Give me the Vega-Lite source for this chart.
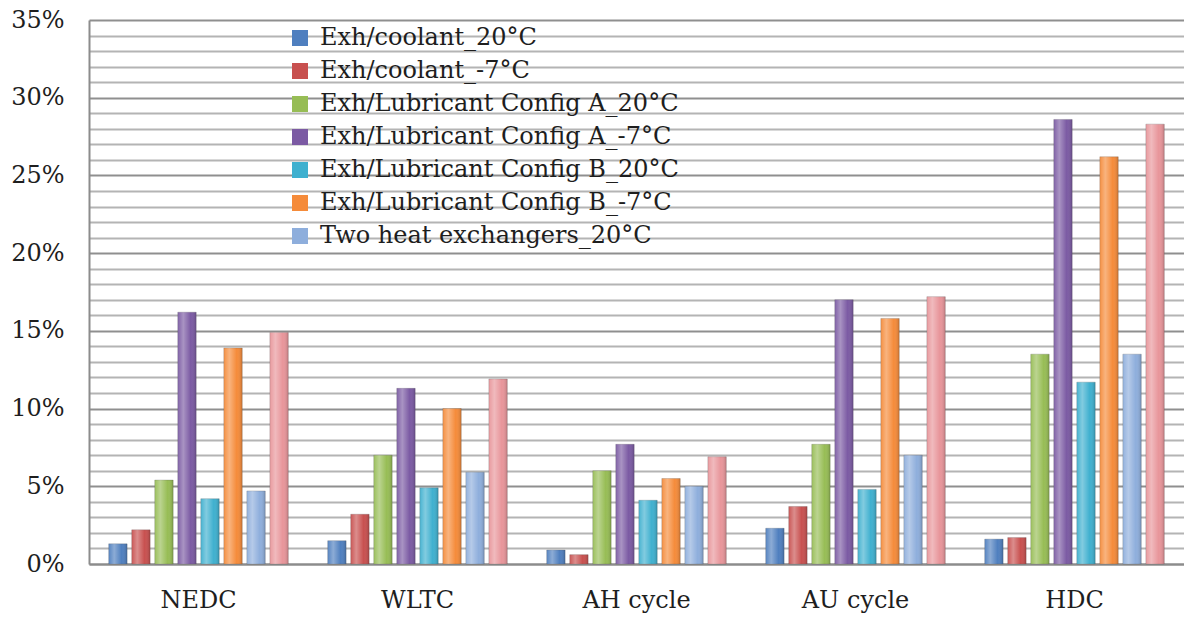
{
  "$schema": "https://vega.github.io/schema/vega-lite/v6.json",
  "autosize": {"type": "none"},
  "padding": {"left": 89, "top": 20, "right": 0, "bottom": 58},
  "width": 1095,
  "height": 544,
  "background": "white",
  "config": {
    "font": "DejaVu Serif",
    "view": {"stroke": null},
    "axis": {"labelFont": "DejaVu Serif", "labelColor": "#1e1e1e", "labelFontSize": 24}
  },
  "data": {
    "values": [
      {"cycle": "NEDC", "series": "Exh/coolant_20°C", "value": 0.013},
      {"cycle": "NEDC", "series": "Exh/coolant_-7°C", "value": 0.022},
      {"cycle": "NEDC", "series": "Exh/Lubricant Config A_20°C", "value": 0.054},
      {"cycle": "NEDC", "series": "Exh/Lubricant Config A_-7°C", "value": 0.162},
      {"cycle": "NEDC", "series": "Exh/Lubricant Config B_20°C", "value": 0.042},
      {"cycle": "NEDC", "series": "Exh/Lubricant Config B_-7°C", "value": 0.139},
      {"cycle": "NEDC", "series": "Two heat exchangers_20°C", "value": 0.047},
      {"cycle": "NEDC", "series": "Two heat exchangers_-7°C", "value": 0.149},
      {"cycle": "WLTC", "series": "Exh/coolant_20°C", "value": 0.015},
      {"cycle": "WLTC", "series": "Exh/coolant_-7°C", "value": 0.032},
      {"cycle": "WLTC", "series": "Exh/Lubricant Config A_20°C", "value": 0.070},
      {"cycle": "WLTC", "series": "Exh/Lubricant Config A_-7°C", "value": 0.113},
      {"cycle": "WLTC", "series": "Exh/Lubricant Config B_20°C", "value": 0.049},
      {"cycle": "WLTC", "series": "Exh/Lubricant Config B_-7°C", "value": 0.100},
      {"cycle": "WLTC", "series": "Two heat exchangers_20°C", "value": 0.059},
      {"cycle": "WLTC", "series": "Two heat exchangers_-7°C", "value": 0.119},
      {"cycle": "AH cycle", "series": "Exh/coolant_20°C", "value": 0.009},
      {"cycle": "AH cycle", "series": "Exh/coolant_-7°C", "value": 0.006},
      {"cycle": "AH cycle", "series": "Exh/Lubricant Config A_20°C", "value": 0.060},
      {"cycle": "AH cycle", "series": "Exh/Lubricant Config A_-7°C", "value": 0.077},
      {"cycle": "AH cycle", "series": "Exh/Lubricant Config B_20°C", "value": 0.041},
      {"cycle": "AH cycle", "series": "Exh/Lubricant Config B_-7°C", "value": 0.055},
      {"cycle": "AH cycle", "series": "Two heat exchangers_20°C", "value": 0.050},
      {"cycle": "AH cycle", "series": "Two heat exchangers_-7°C", "value": 0.069},
      {"cycle": "AU cycle", "series": "Exh/coolant_20°C", "value": 0.023},
      {"cycle": "AU cycle", "series": "Exh/coolant_-7°C", "value": 0.037},
      {"cycle": "AU cycle", "series": "Exh/Lubricant Config A_20°C", "value": 0.077},
      {"cycle": "AU cycle", "series": "Exh/Lubricant Config A_-7°C", "value": 0.170},
      {"cycle": "AU cycle", "series": "Exh/Lubricant Config B_20°C", "value": 0.048},
      {"cycle": "AU cycle", "series": "Exh/Lubricant Config B_-7°C", "value": 0.158},
      {"cycle": "AU cycle", "series": "Two heat exchangers_20°C", "value": 0.070},
      {"cycle": "AU cycle", "series": "Two heat exchangers_-7°C", "value": 0.172},
      {"cycle": "HDC", "series": "Exh/coolant_20°C", "value": 0.016},
      {"cycle": "HDC", "series": "Exh/coolant_-7°C", "value": 0.017},
      {"cycle": "HDC", "series": "Exh/Lubricant Config A_20°C", "value": 0.135},
      {"cycle": "HDC", "series": "Exh/Lubricant Config A_-7°C", "value": 0.286},
      {"cycle": "HDC", "series": "Exh/Lubricant Config B_20°C", "value": 0.117},
      {"cycle": "HDC", "series": "Exh/Lubricant Config B_-7°C", "value": 0.262},
      {"cycle": "HDC", "series": "Two heat exchangers_20°C", "value": 0.135},
      {"cycle": "HDC", "series": "Two heat exchangers_-7°C", "value": 0.283}
    ]
  },
  "encoding": {
    "x": {
      "field": "cycle",
      "type": "nominal",
      "sort": ["NEDC", "WLTC", "AH cycle", "AU cycle", "HDC"],
      "scale": {"paddingInner": 0.18, "paddingOuter": 0.09},
      "axis": {
        "title": null,
        "labelAngle": 0,
        "ticks": false,
        "labelPadding": 24,
        "domain": true,
        "domainColor": "#8c8c8c",
        "domainWidth": 2
      }
    },
    "xOffset": {
      "field": "series",
      "type": "nominal",
      "sort": [
        "Exh/coolant_20°C",
        "Exh/coolant_-7°C",
        "Exh/Lubricant Config A_20°C",
        "Exh/Lubricant Config A_-7°C",
        "Exh/Lubricant Config B_20°C",
        "Exh/Lubricant Config B_-7°C",
        "Two heat exchangers_20°C",
        "Two heat exchangers_-7°C"
      ],
      "scale": {"paddingInner": 0.2, "paddingOuter": 0}
    },
    "y": {
      "field": "value",
      "type": "quantitative",
      "scale": {"domain": [0, 0.35], "nice": false},
      "axis": {
        "title": null,
        "format": ".0%",
        "values": [0, 0.01, 0.02, 0.03, 0.04, 0.05, 0.06, 0.07, 0.08, 0.09, 0.10, 0.11, 0.12, 0.13, 0.14, 0.15, 0.16, 0.17, 0.18, 0.19, 0.20, 0.21, 0.22, 0.23, 0.24, 0.25, 0.26, 0.27, 0.28, 0.29, 0.30, 0.31, 0.32, 0.33, 0.34, 0.35],
        "labelExpr": "round(datum.value*100) % 5 == 0 ? datum.label : ''",
        "ticks": false,
        "labelPadding": 25,
        "domain": true,
        "domainColor": "#8c8c8c",
        "domainWidth": 2,
        "grid": true,
        "gridColor": {"condition": {"test": "round(datum.value*100) % 5 == 0", "value": "#8f8f8f"}, "value": "#b4b4b4"},
        "gridWidth": 2
      }
    }
  },
  "layer": [
    {
      "mark": {"type": "bar", "strokeWidth": 1, "stroke": "#555555", "strokeOpacity": 0.25},
      "encoding": {
        "color": {
          "field": "series",
          "type": "nominal",
          "scale": {
            "domain": [
              "Exh/coolant_20°C",
              "Exh/coolant_-7°C",
              "Exh/Lubricant Config A_20°C",
              "Exh/Lubricant Config A_-7°C",
              "Exh/Lubricant Config B_20°C",
              "Exh/Lubricant Config B_-7°C",
              "Two heat exchangers_20°C",
              "Two heat exchangers_-7°C"
            ],
            "range": ["#4f7fbf", "#c8504f", "#97bd55", "#7b5aa3", "#3fb0cf", "#f58b3a", "#8eaedc", "#e8959a"]
          },
          "legend": {
            "title": null,
            "orient": "none",
            "legendX": 199,
            "legendY": 6,
            "values": [
              "Exh/coolant_20°C",
              "Exh/coolant_-7°C",
              "Exh/Lubricant Config A_20°C",
              "Exh/Lubricant Config A_-7°C",
              "Exh/Lubricant Config B_20°C",
              "Exh/Lubricant Config B_-7°C",
              "Two heat exchangers_20°C"
            ],
            "symbolType": "square",
            "symbolSize": 256,
            "symbolStrokeWidth": 0,
            "labelFont": "DejaVu Serif",
            "labelFontSize": 24,
            "labelColor": "#1e1e1e",
            "labelLimit": 700,
            "labelOffset": 8,
            "rowPadding": 9
          }
        }
      }
    },
    {
      "mark": {
        "type": "bar",
        "fill": {
          "gradient": "linear",
          "x1": 0, "x2": 1, "y1": 0, "y2": 0,
          "stops": [
            {"offset": 0, "color": "rgba(255,255,255,0.05)"},
            {"offset": 0.3, "color": "rgba(255,255,255,0.35)"},
            {"offset": 0.7, "color": "rgba(255,255,255,0.0)"},
            {"offset": 1, "color": "rgba(0,0,0,0.18)"}
          ]
        }
      }
    }
  ]
}
